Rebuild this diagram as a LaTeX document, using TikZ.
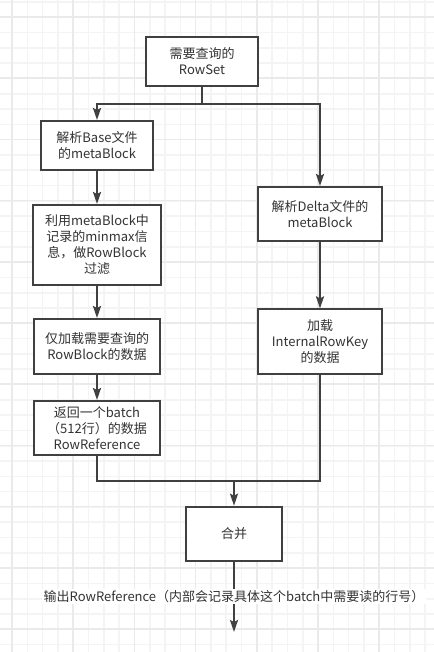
\documentclass[tikz,border=0pt]{standalone}
\usepackage{fontspec}
\newfontfamily\cjk{Noto Sans CJK SC}
\usetikzlibrary{arrows.meta}
\definecolor{luoi}{HTML}{F4F4F4}
\definecolor{luoidam}{HTML}{EAEAEA}
\definecolor{net}{HTML}{404040}
\definecolor{chu}{HTML}{333333}
\begin{document}
\begin{tikzpicture}[x=0.75pt,y=-0.75pt,>={Stealth[length=9pt,width=6pt,inset=1.5pt]},
khoi/.style={draw=net,line width=1.5pt,fill=white,align=center,text=chu,inner sep=0pt,
  font=\cjk\fontsize{9.75}{12}\selectfont},
duong/.style={draw=net,line width=1.5pt}]
% Vẽ lưới nền
\useasboundingbox (0,0) rectangle (434,652);
\fill[white] (0,0) rectangle (434,652);
\foreach \k in {0,...,29}
\draw[luoi,line width=1.2pt] ({-3.3+15.3*\k},0)--({-3.3+15.3*\k},652);
\foreach \k in {0,...,43}
\draw[luoi,line width=1.2pt] (0,{2+15.3*\k})--(434,{2+15.3*\k});
\foreach \k in {0,...,7}
\draw[luoidam,line width=1.2pt] ({12+61.2*\k},0)--({12+61.2*\k},652);
\foreach \k in {0,...,10}
\draw[luoidam,line width=1.2pt] (0,{17+61.2*\k})--(434,{17+61.2*\k});
% Các khối
\node[khoi,minimum width=84pt,minimum height=36.75pt] (rowset) at (202,61.4) {需要查询的\\RowSet};
\node[khoi,minimum width=84pt,minimum height=36.75pt] (base1) at (97,145.5) {解析Base文件\\的metaBlock};
\node[khoi,minimum width=96.5pt,minimum height=60pt] (base2) at (97,245) {利用metaBlock中\\记录的minmax信\\息，做RowBlock\\过滤};
\node[khoi,minimum width=94.2pt,minimum height=41.25pt] (base3) at (97,346.5) {仅加载需要查询的\\RowBlock的数据};
\node[khoi,minimum width=94.2pt,minimum height=40.5pt] (base4) at (97,428) {返回一个batch\\（512行）的数据\\RowReference};
\node[khoi,minimum width=93.2pt,minimum height=40.5pt] (delta1) at (320,214) {解析Delta文件的\\metaBlock};
\node[khoi,minimum width=93.2pt,minimum height=48.5pt] (delta2) at (320,341.7) {加载\\InternalRowKey\\的数据};
\node[khoi,minimum width=72.5pt,minimum height=40.5pt] (hop) at (234,533.7) {合并};
% Vẽ các mũi tên
\coordinate (tach) at (202,104);
\coordinate (gop) at (234,481);
\coordinate (ra) at (234,632);
\draw[duong] (rowset.south)--(tach);
\draw[duong,->] (tach) -| (base1.north);
\draw[duong,->] (tach) -| (delta1.north);
\draw[duong,->] (base1)--(base2);
\draw[duong,->] (base2)--(base3);
\draw[duong,->] (base3)--(base4);
\draw[duong,->] (delta1)--(delta2);
\draw[duong] (base4.south) |- (gop);
\draw[duong] (delta2.south) |- (gop);
\draw[duong,->] (gop)--(hop.north);
\draw[duong,->] (hop.south)--(ra)
node[midway,fill=white,text=chu,inner sep=1pt,font=\cjk\fontsize{9.75}{12}\selectfont] (nhan) {输出RowReference（内部会记录具体这个batch中需要读的行号）};
\end{tikzpicture}
\end{document}
